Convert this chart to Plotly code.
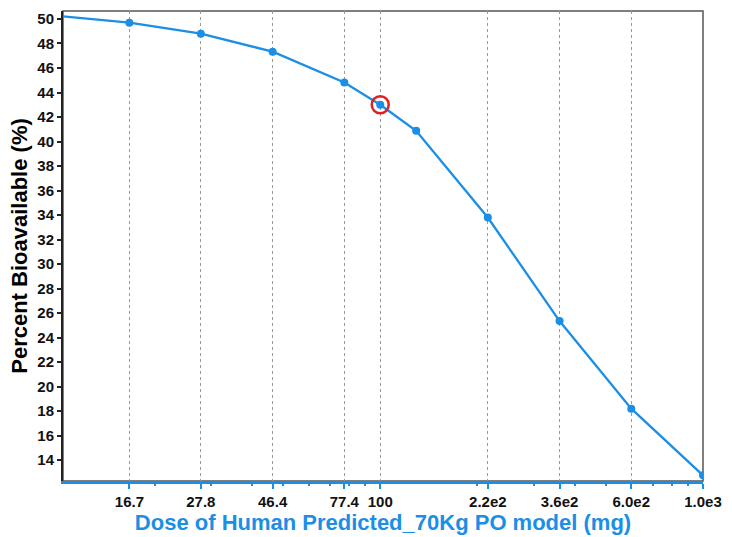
import numpy as np
import plotly.graph_objects as go

dose = [10.0, 16.7, 27.8, 46.4, 77.4, 100.0, 129.2, 215.4, 359.4, 599.5, 1000.0]
bioavail = [50.25, 49.7, 48.8, 47.33, 44.82, 43.0, 40.88, 33.8, 25.35, 18.2, 12.76]
tick_vals = [16.7, 27.8, 46.4, 77.4, 100, 215.4, 359.4, 599.5, 1000]
tick_text = ["16.7", "27.8", "46.4", "77.4", "100", "2.2e2", "3.6e2", "6.0e2", "1.0e3"]
highlight_dose = [100.0]
highlight_val = [43.0]

blue = "#1b8ee6"
font_family = "Liberation Sans, Arial, sans-serif"

fig = go.Figure()
fig.add_trace(go.Scatter(
    x=dose, y=bioavail, mode="lines+markers",
    line=dict(color=blue, width=2.3),
    marker=dict(color=blue, size=8),
    showlegend=False,
))
fig.add_trace(go.Scatter(
    x=highlight_dose, y=highlight_val, mode="markers",
    marker=dict(symbol="circle-open", size=17, color="#e02020", line=dict(width=2.5, color="#e02020")),
    showlegend=False,
))

fig.add_shape(type="rect", xref="paper", yref="paper", x0=0, y0=0, x1=1, y1=1,
              line=dict(color="#555555", width=1.5), layer="below")

fig.update_layout(
    width=732, height=537,
    margin=dict(l=63, r=23, t=10, b=53),
    paper_bgcolor="white", plot_bgcolor="white",
    font=dict(family=font_family, color="black"),
    xaxis=dict(
        type="log",
        range=[np.log10(10.4), 3],
        tickmode="array", tickvals=tick_vals, ticktext=tick_text,
        tickfont=dict(size=15, family=font_family, color="#111111", weight="bold"),
        ticks="outside", ticklen=5, tickwidth=2, tickcolor=blue,
        showline=True, linecolor=blue, linewidth=3,
        showgrid=True, gridcolor="#9a9a9a", griddash="dot", gridwidth=1,
        zeroline=False,
        minor=dict(ticks="outside", ticklen=2, tickcolor=blue, dtick="D1", showgrid=False),
        title=dict(text="Dose of Human Predicted_70Kg PO model (mg)",
                   font=dict(size=22, color=blue, family=font_family, weight="bold"),
                   standoff=2),
    ),
    yaxis=dict(
        range=[12.3, 50.65],
        tickmode="linear", tick0=14, dtick=2,
        tickfont=dict(size=15, family=font_family, color="#111111", weight="bold"),
        ticks="outside", ticklen=4, tickwidth=2, tickcolor="#222222",
        showline=True, linecolor="#222222", linewidth=2,
        showgrid=False, zeroline=False,
        title=dict(text="Percent Bioavailable (%)",
                   font=dict(size=22, color="black", family=font_family, weight="bold"),
                   standoff=4),
    ),
)

fig.write_html("out.html")
